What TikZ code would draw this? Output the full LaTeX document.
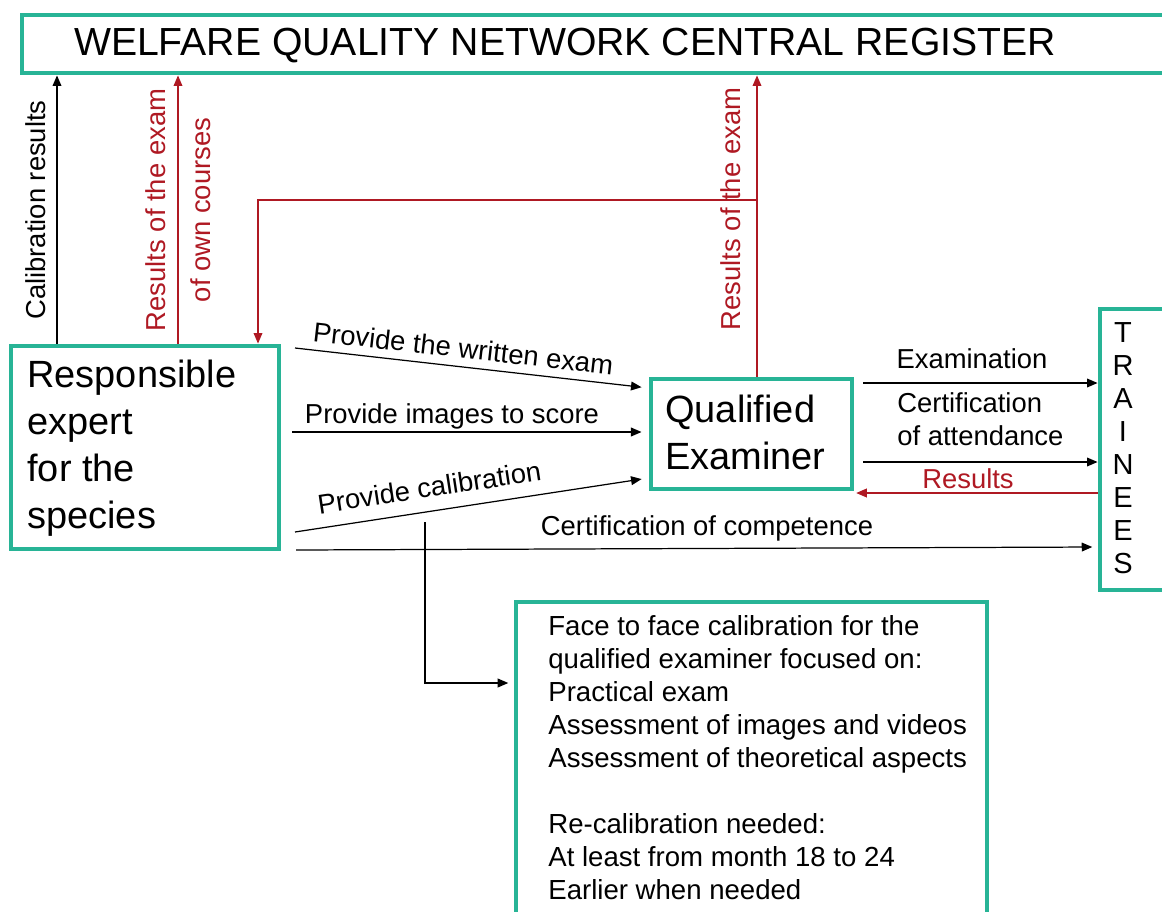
\documentclass[tikz,border=0pt]{standalone}
\usepackage{fontspec}
\setmainfont{Liberation Sans}
\usepackage{xcolor}
\usepackage{tikz}
\usetikzlibrary{positioning,calc,fit,arrows.meta}
\definecolor{boxgreen}{RGB}{40,180,150}
\definecolor{resred}{RGB}{175,25,35}

\begin{document}
\begin{tikzpicture}[x=0.02cm, y=-0.02cm,
    box/.style={draw=boxgreen, line width=2.8pt, inner sep=0pt},
    big/.style={font=\fontsize{21.6}{26.7}\selectfont, align=left, inner sep=0pt},
    lbl/.style={font=\fontsize{15.6}{18.8}\selectfont, inner sep=0pt},
    arr/.style={-{Triangle[length=6pt,width=5pt]}, line width=0.7pt},
    redarr/.style={arr, draw=resred, line width=0.6pt},
    redtxt/.style={lbl, text=resred}]
    \useasboundingbox (0,0) rectangle (1162,912);
    \clip (0,0) rectangle (1162,912);

    % Boxes
    \node[box, fit={(22,15) (1185,73)}] (reg) {};
    \node[box, fit={(11,346) (279,549)}] (expert) {};
    \node[box, fit={(651,379) (852,489)}] (qe) {};
    \node[box, fit={(1100,309) (1185,590)}] (trn) {};
    \node[box, fit={(516,602) (987,940)}] (face) {};

    \node[font=\fontsize{22.3}{26}\selectfont] (title) at (565,46) {WELFARE QUALITY NETWORK CENTRAL REGISTER};
    \node[big, anchor=north west] (exptxt) at (27,360) {Responsible\\expert\\for the\\species};
    \node[big, anchor=north west] (qetxt) at (665,395) {Qualified\\Examiner};
    \node[font=\fontsize{16.5}{18.8}\selectfont, align=center, inner sep=0pt, anchor=north] (trntxt) at (1123,322) {T\\R\\A\\I\\N\\E\\E\\S};
    \node[lbl, font=\fontsize{15.7}{18.8}\selectfont, align=left, anchor=north west] (facetxt) at (548,615)
        {Face to face calibration for the\\qualified examiner focused on:\\Practical exam\\Assessment of images and videos\\Assessment of theoretical aspects\\[18.8pt]Re-calibration needed:\\At least from month 18 to 24\\Earlier when needed};

    % Up to the register
    \draw[arr] (expert.north -| 57,0) -- (reg.south -| 57,0);
    \node[lbl, rotate=90, anchor=base] (calres) at (45,210) {Calibration results};
    \draw[redarr] (expert.north -| 178,0) -- (reg.south -| 178,0);
    \node[redtxt, rotate=90, align=center, font=\fontsize{15.6}{25.5}\selectfont] (ownres) at (178,210) {Results of the exam\\of own courses};
    \draw[redarr] (qe.north -| 757,0) -- (reg.south -| 757,0);
    \node[redtxt, rotate=90, anchor=base] (qeres) at (740,209) {Results of the exam};
    \coordinate (fb) at (757,200);
    \draw[redarr] (fb) -| (expert.north -| 258,0);

    % Expert to examiner
    \coordinate (wr) at (295,348);
    \coordinate (im) at (292,432);
    \coordinate (cl) at (295,532);
    \coordinate (cc) at (296,550);
    \draw[arr, shorten >=4pt] (wr) -- (qe.west |- 0,388)
        node[lbl, pos=0.47, sloped, above=4.5pt] (wrlbl) {Provide the written exam};
    \draw[arr, shorten >=4pt] (im) -- (qe.west |- 0,432);
    \node[lbl, anchor=base] (imlbl) at (452,423) {Provide images to score};
    \draw[arr, shorten >=4pt] (cl) -- (qe.west |- 0,478)
        node[lbl, pos=0.39, sloped, above=7.5pt] (cllbl) {Provide calibration};
    \draw[arr, shorten >=3pt] (cc) -- (trn.west |- 0,547);
    \node[lbl, anchor=base] (cclbl) at (707,535) {Certification of competence};

    % Calibration branch
    \coordinate (cb) at (425,522);
    \draw[arr, shorten >=3pt] (cb) |- (face.west |- 0,683);

    % Examiner and trainees
    \draw[arr, shorten <=5pt] (qe.east |- 0,383) -- (trn.west |- 0,383);
    \node[lbl, anchor=base] (exlbl) at (972,368) {Examination};
    \draw[arr, shorten <=5pt] (qe.east |- 0,462) -- (trn.west |- 0,462);
    \node[lbl, align=left, anchor=north west] (atlbl) at (897,392) {Certification\\of attendance};
    \draw[redarr, shorten >=1pt] (trn.west |- 0,493) -- (qe.east |- 0,493);
    \node[redtxt, anchor=base] (rslbl) at (968,488) {Results};
\end{tikzpicture}
\end{document}
